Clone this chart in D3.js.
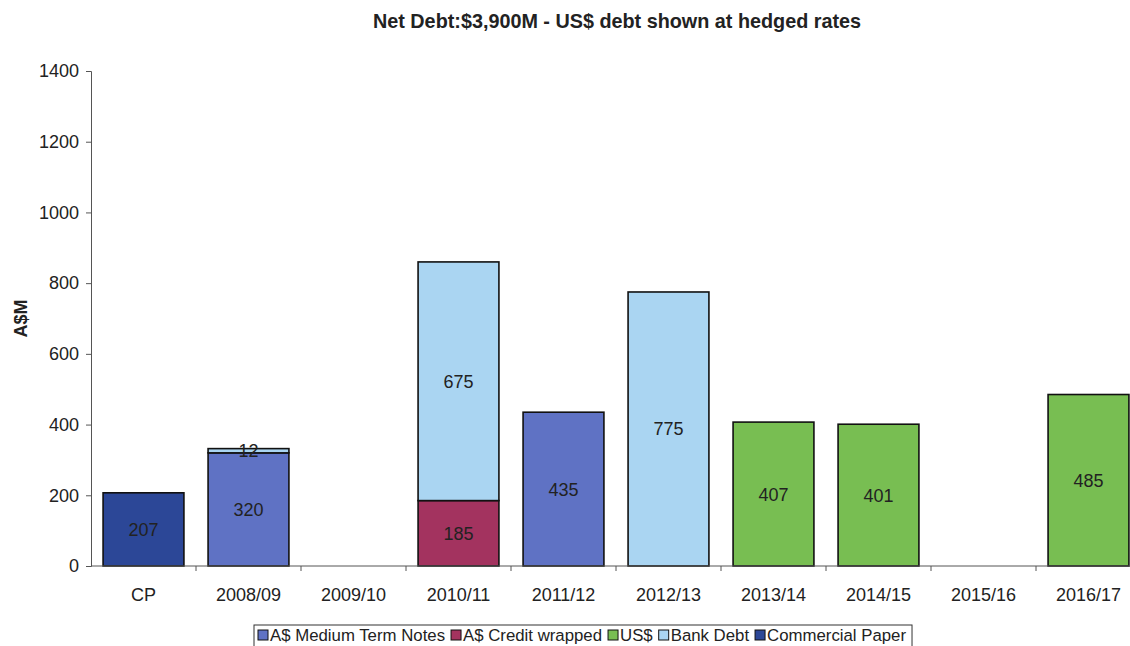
<!DOCTYPE html>
<html>
<head>
<meta charset="utf-8">
<script src="https://cdn.jsdelivr.net/npm/d3@7"></script>
<style>
  html, body { margin: 0; padding: 0; background: #fff; }
  svg { display: block; font-family: "Liberation Sans", Arial, sans-serif; }
</style>
</head>
<body>
<svg id="chart" width="1130" height="646"></svg>
<script>
// Maturity profile by financial year, A$M
const categories = ["CP", "2008/09", "2009/10", "2010/11", "2011/12", "2012/13", "2013/14", "2014/15", "2015/16", "2016/17"];
const mediumTermNotes = [0, 320, 0, 0, 435, 0, 0, 0, 0, 0];
const creditWrapped   = [0, 0, 0, 185, 0, 0, 0, 0, 0, 0];
const usDebt          = [0, 0, 0, 0, 0, 0, 407, 401, 0, 485];
const bankDebt        = [0, 12, 0, 675, 0, 775, 0, 0, 0, 0];
const commercialPaper = [207, 0, 0, 0, 0, 0, 0, 0, 0, 0];
const seriesNames = ["A$ Medium Term Notes", "A$ Credit wrapped", "US$", "Bank Debt", "Commercial Paper"];
const seriesColors = ["#5f72c4", "#a3335f", "#78be52", "#aad5f2", "#2c4797"];
const yTicks = [0, 200, 400, 600, 800, 1000, 1200, 1400];
const chartTitle = "Net Debt:$3,900M - US$ debt shown at hedged rates";
const yTitle = "A$M";

const seriesValues = [mediumTermNotes, creditWrapped, usDebt, bankDebt, commercialPaper];
const rows = categories.map((c, i) => {
  const r = { category: c };
  seriesNames.forEach((s, k) => { r[s] = seriesValues[k][i]; });
  return r;
});

const svg = d3.select("#chart");
const plotLeft = 91, plotRight = 1141, plotTop = 71, plotBottom = 566;
const fontFamily = "Liberation Sans, Arial, sans-serif";

const x = d3.scaleBand().domain(categories).range([plotLeft, plotRight])
  .paddingInner(0.23).paddingOuter(0.115);
const y = d3.scaleLinear().domain([0, 1400]).range([plotBottom, plotTop]);

// Title
svg.append("text")
  .attr("x", 617).attr("y", 28)
  .attr("text-anchor", "middle")
  .attr("font-size", 19.8).attr("font-weight", "bold").attr("fill", "#222")
  .text(chartTitle);

// Y axis
const yAxis = svg.append("g")
  .attr("transform", `translate(${plotLeft},0)`)
  .call(d3.axisLeft(y).tickValues(yTicks).tickSize(5).tickPadding(7).tickFormat(d3.format("d")));
yAxis.select(".domain").attr("stroke", "#555").attr("stroke-width", 1);
yAxis.selectAll(".tick line").attr("stroke", "#555");
yAxis.selectAll(".tick text").attr("font-size", 18).attr("fill", "#222")
  .attr("font-family", fontFamily);

svg.append("text")
  .attr("transform", `translate(26.5,${(plotTop + plotBottom) / 2}) rotate(-90)`)
  .attr("text-anchor", "middle")
  .attr("font-size", 18).attr("font-weight", "bold").attr("fill", "#222")
  .text(yTitle);

// Stacked bars
const stack = d3.stack().keys(seriesNames);
const layers = stack(rows);

const layerG = svg.append("g").selectAll("g")
  .data(layers).join("g")
  .attr("fill", (d, i) => seriesColors[i]);

layerG.selectAll("rect")
  .data(d => d.filter(p => p[1] - p[0] > 0))
  .join("rect")
  .attr("x", d => x(d.data.category))
  .attr("width", x.bandwidth())
  .attr("y", d => y(d[1]))
  .attr("height", d => y(d[0]) - y(d[1]))
  .attr("stroke", "#111").attr("stroke-width", 1.6);

// Segment value labels
layerG.selectAll("text")
  .data(d => d.filter(p => p[1] - p[0] > 0).map(p => ({ p, v: p[1] - p[0] })))
  .join("text")
  .attr("x", d => x(d.p.data.category) + x.bandwidth() / 2)
  .attr("y", d => (y(d.p[0]) + y(d.p[1])) / 2)
  .attr("dy", "0.36em")
  .attr("text-anchor", "middle")
  .attr("font-size", 18).attr("fill", "#222")
  .text(d => d.v);

// X axis with ticks between categories
const xAxis = svg.append("g")
  .attr("transform", `translate(0,${plotBottom})`)
  .call(d3.axisBottom(x).tickSize(0).tickPadding(22));
xAxis.select(".domain").remove();
xAxis.append("line").attr("x1", plotLeft).attr("x2", 1130).attr("stroke", "#555");
xAxis.selectAll(".tick text").attr("font-size", 18).attr("fill", "#222")
  .attr("font-family", fontFamily);
const half = x.step() * x.paddingInner() / 2;
xAxis.selectAll("line.sep")
  .data(categories.slice(1))
  .join("line").attr("class", "sep")
  .attr("x1", d => x(d) - half).attr("x2", d => x(d) - half)
  .attr("y1", 0).attr("y2", 5)
  .attr("stroke", "#555");

// Legend
const legend = svg.append("g");
const legBox = legend.append("rect")
  .attr("y", 625).attr("height", 30)
  .attr("fill", "#fff").attr("stroke", "#333").attr("stroke-width", 1);
let cx = 258;
seriesNames.forEach((name, i) => {
  legend.append("rect")
    .attr("x", cx).attr("y", 630).attr("width", 10).attr("height", 10)
    .attr("fill", seriesColors[i]).attr("stroke", "#111").attr("stroke-width", 1);
  const t = legend.append("text")
    .attr("x", cx + 12).attr("y", 641)
    .attr("font-size", 16.8).attr("fill", "#222")
    .text(name);
  cx += 12 + t.node().getComputedTextLength() + 6;
});
legBox.attr("x", 254).attr("width", cx - 254);
</script>
</body>
</html>
